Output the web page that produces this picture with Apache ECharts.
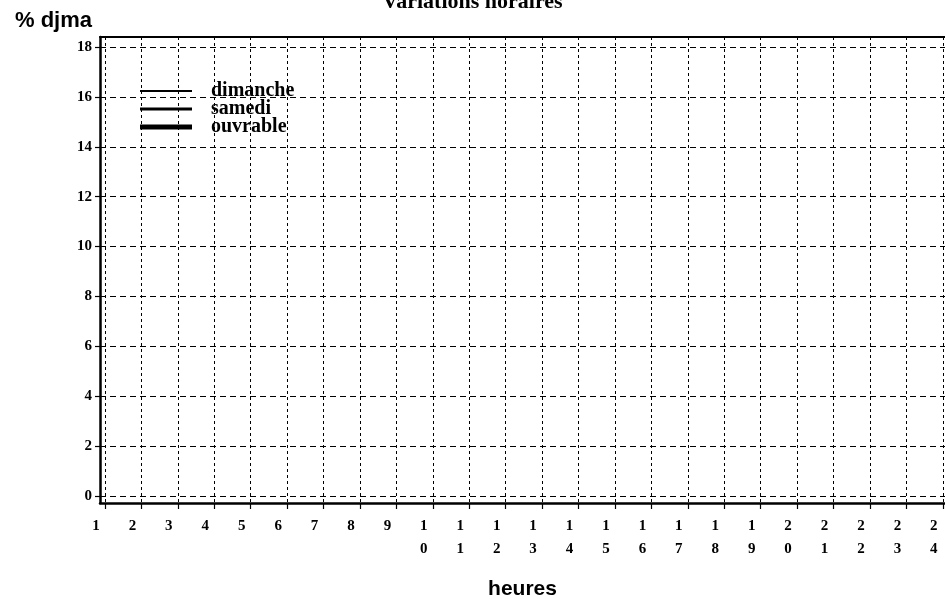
<!DOCTYPE html>
<html>
<head>
<meta charset="utf-8">
<script src="https://cdn.jsdelivr.net/npm/echarts@6/dist/echarts.min.js"></script>
<style>html,body{margin:0;padding:0;background:#fff}#c{width:945px;height:599px}</style>
</head>
<body>
<div id="c"></div>
<script>
// Data (the reference grid shows no plotted values)
const hours = [1,2,3,4,5,6,7,8,9,10,11,12,13,14,15,16,17,18,19,20,21,22,23,24];
const yTicks = [0,2,4,6,8,10,12,14,16,18];
const seriesNames = ['dimanche','samedi','ouvrable'];
const dimanche = [];
const samedi = [];
const ouvrable = [];

const serif = '"Liberation Serif", "DejaVu Serif", serif';
const sans = '"Liberation Sans", Arial, sans-serif';
const widths = [2, 3, 5];

const chart = echarts.init(document.getElementById('c'));
chart.setOption({
  animation: false,
  backgroundColor: '#fff',
  title: [
    { text: 'Variations horaires', left: 'center', top: -14,
      textStyle: { fontFamily: serif, fontWeight: 'bold', fontSize: 22, color: '#000' } },
    { text: '% djma', left: 10, top: 5,
      textStyle: { fontFamily: sans, fontWeight: 'bold', fontSize: 22, color: '#000' } }
  ],
  legend: {
    orient: 'vertical', left: 140, top: 81, padding: 0,
    itemWidth: 52, itemHeight: 14, itemGap: -2,
    symbolKeepAspect: true,
    textStyle: { fontFamily: serif, fontWeight: 'bold', fontSize: 20, lineHeight: 18, color: '#000', padding: [2,0,0,14] },
    data: seriesNames.map((n, i) => ({
      name: n,
      icon: 'path://M0,0H52V' + widths[i] + 'H0Z',
      itemStyle: { color: '#000' }
    }))
  },
  grid: { left: 100, right: 0, top: 37, bottom: 96, containLabel: false, outerBoundsMode: 'none' },
  xAxis: [{
    type: 'value', min: 0.863, max: 24.06,
    name: 'heures', nameLocation: 'middle', nameGap: 76,
    nameTextStyle: { fontFamily: sans, fontWeight: 'bold', fontSize: 21, color: '#000' },
    axisLine: { onZero: false, lineStyle: { color: '#000', width: 2.5 } },
    axisTick: { show: true, length: 6, customValues: hours, lineStyle: { color: '#000', width: 1.2 } },
    axisLabel: {
      customValues: hours, margin: 12,
      fontFamily: serif, fontWeight: 'bold', fontSize: 15, lineHeight: 23, color: '#000',
      padding: [0, 18, 0, 0],
      formatter: v => String(v).split('').join('\n')
    },
    splitLine: { show: true, lineStyle: { color: '#000', width: 1, type: [3, 3] } }
  }, {
    type: 'value', min: 0.863, max: 24.06, position: 'top',
    axisLine: { show: true, onZero: false, lineStyle: { color: '#000', width: 2 } },
    axisTick: { show: false }, axisLabel: { show: false }, splitLine: { show: false }
  }],
  yAxis: {
    type: 'value', min: -0.28, max: 18.4,
    axisLine: { show: true, onZero: false, lineStyle: { color: '#000', width: 2.5 } },
    axisTick: { show: true, length: 5, customValues: yTicks, lineStyle: { color: '#000', width: 1.2 } },
    axisLabel: { customValues: yTicks, margin: 8, fontFamily: serif, fontWeight: 'bold', fontSize: 15, color: '#000' },
    splitLine: { show: true, lineStyle: { color: '#000', width: 1, type: [6, 4] } }
  },
  series: [
    { name: 'dimanche', type: 'line', data: dimanche, showSymbol: false, color: '#000', lineStyle: { width: widths[0], color: '#000' } },
    { name: 'samedi', type: 'line', data: samedi, showSymbol: false, color: '#000', lineStyle: { width: widths[1], color: '#000' } },
    { name: 'ouvrable', type: 'line', data: ouvrable, showSymbol: false, color: '#000', lineStyle: { width: widths[2], color: '#000' } }
  ]
});
</script>
</body>
</html>
